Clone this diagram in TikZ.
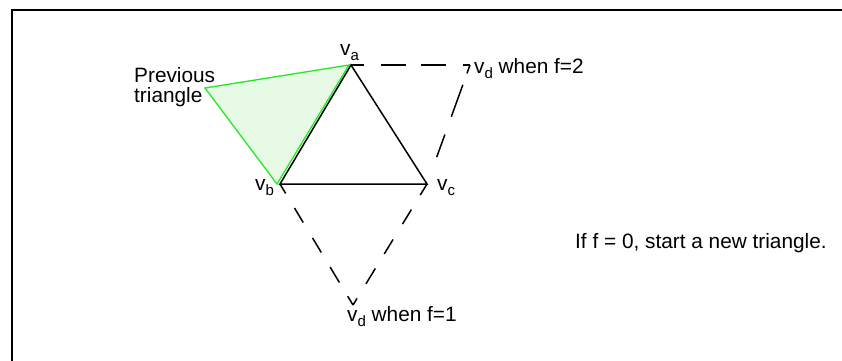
\documentclass[tikz,border=0pt]{standalone}
\usepackage{fontspec}
\setmainfont{Liberation Sans}
\definecolor{prevstroke}{RGB}{40,230,40}
\definecolor{prevfill}{RGB}{230,250,230}
\newcommand\subs[1]{\raisebox{-5pt}{\fontsize{15}{15}\selectfont #1}}
\begin{document}
\begin{tikzpicture}[x=1pt,y=-1pt,
  edge/.style={line width=1.5pt,black},
  lbl/.style={inner sep=0pt,anchor=base west,font=\fontsize{20.8}{20.8}\selectfont},
  prevtri/.style={draw=prevstroke,fill=prevfill,line width=1.3pt,line join=miter},
  frame/.style={line width=2.8pt,black}]
\useasboundingbox (0,0) rectangle (842,360);
\clip (0,0) rectangle (842,360);
\fill[white] (0,0) rectangle (842,360);
\draw[frame] (12,10) rectangle (900,400);

\coordinate (va) at (351,65);
\coordinate (vb) at (280,184);
\coordinate (vc) at (427,184);
\coordinate (vd2) at (470,65);
\coordinate (vd1) at (353,305);
\coordinate (pa) at (349,65);
\coordinate (pb) at (277,184);
\coordinate (pc) at (205,88);

\draw[prevtri] (pa) -- (pb) -- (pc) -- cycle;
\draw[edge] (vb) -- (va) -- (vc) -- cycle;

\draw[edge, dash pattern=on 13pt off 17pt on 25pt off 15pt on 25pt off 17pt on 20pt] (va) -- (vd2);
\draw[edge, dash pattern=on 9pt off 12pt on 34pt off 19pt on 24pt off 60pt] (vd2) -- (vc);
\draw[edge, dash pattern=on 11pt off 17pt on 17pt off 18pt on 17pt off 17pt on 18pt off 16pt on 20pt] (vb) -- (vd1);
\draw[edge, dash pattern=on 13pt off 17pt on 17pt off 18pt on 17pt off 17pt on 18pt off 17pt on 20pt] (vc) -- (vd1);

\node[lbl] (la) at (340,55) {v\subs{a}};
\node[lbl] (lb) at (255,190) {v\subs{b}};
\node[lbl] (lc) at (437,190) {v\subs{c}};
\node[lbl] (ld2) at (474,73) {v\subs{d} when f=2};
\node[lbl] (ld1) at (347,321) {v\subs{d} when f=1};
\node[lbl] (prev1) at (134,82) {Previous};
\node[lbl] (prev2) at (134,102) {triangle};
\node[lbl] (note) at (575,248) {If f = 0, start a new triangle.};
\end{tikzpicture}
\end{document}
